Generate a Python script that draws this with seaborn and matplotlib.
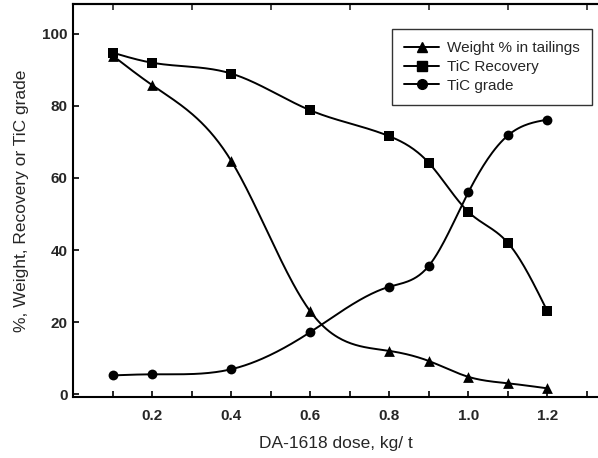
import numpy as np
import seaborn as sns
import matplotlib.pyplot as plt
from matplotlib.lines import Line2D

# Data
dose = [0.1, 0.2, 0.4, 0.6, 0.8, 0.9, 1.0, 1.1, 1.2]
weight_tailings = [94.0, 85.8, 64.8, 23.0, 12.0, 9.2, 4.8, 3.0, 1.6]
tic_recovery = [94.8, 92.0, 89.0, 78.8, 71.6, 64.2, 50.6, 42.0, 23.0]
tic_grade = [5.2, 5.5, 6.9, 17.2, 29.8, 35.6, 56.0, 71.8, 76.2]

series_labels = ["Weight % in tailings", "TiC Recovery", "TiC grade"]
series_markers = ["^", "s", "o"]
marker_sizes = [60, 50, 50]


def natural_spline(x, y, n=300):
    # plain natural cubic spline so the curves run smoothly through the points
    x = np.asarray(x, float)
    y = np.asarray(y, float)
    h = np.diff(x)
    k = len(x)
    A = np.zeros((k, k))
    b = np.zeros(k)
    A[0, 0] = A[-1, -1] = 1
    for i in range(1, k - 1):
        A[i, i - 1] = h[i - 1]
        A[i, i] = 2 * (h[i - 1] + h[i])
        A[i, i + 1] = h[i]
        b[i] = 6 * ((y[i + 1] - y[i]) / h[i] - (y[i] - y[i - 1]) / h[i - 1])
    M = np.linalg.solve(A, b)
    xs = np.linspace(x[0], x[-1], n)
    idx = np.clip(np.searchsorted(x, xs) - 1, 0, k - 2)
    x0, x1 = x[idx], x[idx + 1]
    hh = x1 - x0
    t0, t1 = x1 - xs, xs - x0
    ys = (M[idx] * t0 ** 3 + M[idx + 1] * t1 ** 3) / (6 * hh) \
        + (y[idx] / hh - M[idx] * hh / 6) * t0 \
        + (y[idx + 1] / hh - M[idx + 1] * hh / 6) * t1
    return xs, ys


sns.set_style("ticks")
plt.rcParams["font.family"] = ["Liberation Sans", "DejaVu Sans"]

fig = plt.figure(figsize=(5.98, 4.58), dpi=100)
ax = fig.add_axes([73 / 598, 61 / 458, 525 / 598, 393 / 458])

for values, marker, ms in zip([weight_tailings, tic_recovery, tic_grade],
                              series_markers, marker_sizes):
    xs, ys = natural_spline(dose, values)
    sns.lineplot(x=xs, y=ys, color="black", linewidth=1.4, ax=ax)
    sns.scatterplot(x=dose, y=values, marker=marker, color="black",
                    s=ms, edgecolor="black", linewidth=0, zorder=3, ax=ax)

ax.set_xlim(0, 1.328)
ax.set_ylim(-0.8, 108.3)
ax.set_xticks([0.2, 0.4, 0.6, 0.8, 1.0, 1.2])
ax.set_xticklabels(["0.2", "0.4", "0.6", "0.8", "1.0", "1.2"])
ax.set_xticks(np.arange(0.1, 1.35, 0.1), minor=True)
ax.set_yticks([0, 20, 40, 60, 80, 100])

for lab in ax.get_xticklabels() + ax.get_yticklabels():
    lab.set_fontweight("bold")
    lab.set_fontsize(11)

ax.tick_params(axis="both", which="both", direction="in", length=4, width=1.2, color="black")
ax.tick_params(axis="x", which="major", pad=9)
ax.tick_params(axis="y", which="major", pad=4)

# top axis carries only the odd-tenth ticks
top = ax.secondary_xaxis("top")
top.set_xticks([0.1, 0.3, 0.5, 0.7, 0.9, 1.1, 1.3])
top.tick_params(direction="in", length=4, width=1.2, labeltop=False)
top.spines["top"].set_linewidth(1.5)

for side in ["left", "bottom", "top"]:
    ax.spines[side].set_linewidth(1.5)
    ax.spines[side].set_color("black")
ax.spines["right"].set_visible(False)

ax.set_xlabel("DA-1618 dose, kg/ t", fontsize=12.5, labelpad=9)
ax.set_ylabel("%, Weight, Recovery or TiC grade", fontsize=12.5, labelpad=9)

handles = [Line2D([0], [0], color="black", linewidth=1.4, marker=m, markersize=7)
           for m in series_markers]
leg = ax.legend(handles, series_labels, loc="upper right", bbox_to_anchor=(0.988, 0.937),
                fontsize=11, frameon=True, fancybox=False, handlelength=2.3,
                borderpad=0.8, labelspacing=0.32, handletextpad=0.5, borderaxespad=0)
leg.get_frame().set_edgecolor("black")
leg.get_frame().set_linewidth(1.0)

plt.savefig("out.png", dpi=100)
